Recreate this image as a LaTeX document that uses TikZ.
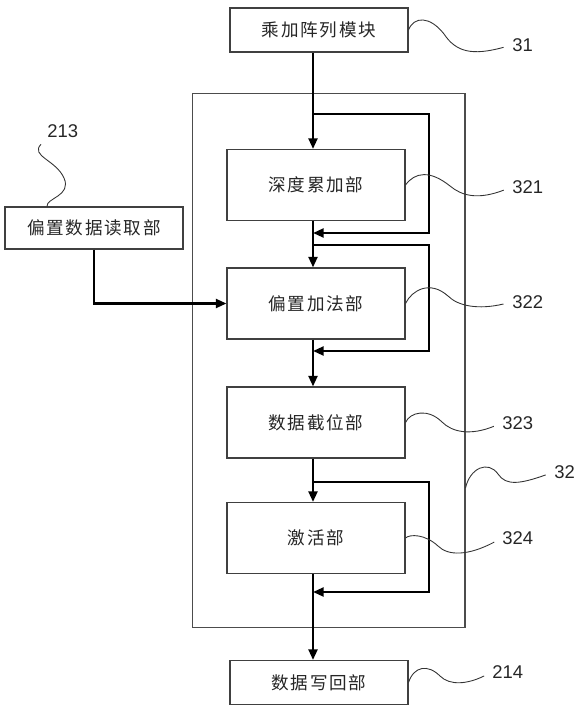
\documentclass[tikz,border=0pt]{standalone}
\usepackage{fontspec}
\setmainfont{Liberation Sans}
\newfontfamily\cjk[LetterSpace=10]{Noto Sans CJK SC}
\usetikzlibrary{arrows.meta}

\begin{document}
\begin{tikzpicture}[
  x=0.02cm,y=-0.02cm,
  font=\cjk\fontsize{10}{12}\selectfont,
  box/.style={draw=black!75,line width=0.6pt,fill=white,text=black!85,
    align=center,minimum width=3.56cm,minimum height=1.42cm,inner sep=2pt},
  ioblock/.style={box,minimum height=0.88cm},
  frame/.style={draw=black!70,line width=0.6pt,minimum width=5.46cm,
    minimum height=10.7cm},
  flow/.style={-{Triangle[length=6pt,width=5pt]},draw=black,
    line width=1.4pt},
  leader/.style={draw=black!80,line width=0.5pt,shorten >=5pt},
  refnum/.style={font=\fontsize{10.5}{12}\selectfont,text=black!85,
    anchor=west,inner sep=0pt}]
\useasboundingbox (0,0) rectangle (580,712);

% outer frame of unit 32
\node[frame] (unit) at (328.5,360.5) {};

\node[ioblock] (mac) at (319,30) {乘加阵列模块};
\node[box] (acc) at (316,185) {深度累加部};
\node[box] (badd) at (316,303.5) {偏置加法部};
\node[box] (trunc) at (316,422.5) {数据截位部};
\node[box] (act) at (316,538) {激活部};
\node[ioblock] (wb) at (319,682.5) {数据写回部};
\node[ioblock,minimum height=0.84cm] (biasrd) at (94,228) {偏置数据读取部};

% bypass taps on the right
\coordinate (s1) at (313,114); \coordinate (r1) at (429,233); \coordinate (m1) at (313,233);
\coordinate (s2) at (313,245); \coordinate (r2) at (429,351); \coordinate (m2) at (313,351);
\coordinate (s3) at (313,482); \coordinate (r3) at (429,592); \coordinate (m3) at (313,592);

\draw[flow] (mac.south -| s1)--(acc.north -| s1);
\draw[flow] (acc.south -| s1)--(badd.north -| s1);
\draw[flow] (badd.south -| s1)--(trunc.north -| s1);
\draw[flow] (trunc.south -| s1)--(act.north -| s1);
\draw[flow] (act.south -| s1)--(wb.north -| s1);
\draw[flow] (s1)-|(r1)--(m1);
\draw[flow] (s2)-|(r2)--(m2);
\draw[flow] (s3)-|(r3)--(m3);
\draw[flow] (biasrd.south)|-(badd.west);

% reference numbers
\node[refnum] (n31) at (512,45) {31};
\node[refnum] (n321) at (512,187) {321};
\node[refnum] (n322) at (512,302) {322};
\node[refnum] (n323) at (502,423) {323};
\node[refnum] (n324) at (502,538) {324};
\node[refnum] (n32) at (554,472) {32};
\node[refnum] (n213) at (47,131) {213};
\node[refnum] (n214) at (492,672) {214};

\draw[leader] (mac.east)..controls (414,16) and (430,16) ..(444,34)
  ..controls (456,52) and (472,56) ..(n31.west);
\draw[leader] (acc.east)..controls (415,172) and (430,170) ..(450,186)
  ..controls (462,196) and (478,200) ..(n321.west);
\draw[leader] (badd.east)..controls (412,290) and (430,280) ..(448,296)
  ..controls (458,306) and (478,310) ..(n322.west);
\draw[leader] (trunc.east)..controls (410,412) and (428,408) ..(442,422)
  ..controls (452,432) and (470,436) ..(n323.west);
\draw[leader] (act.east)..controls (410,534) and (425,534) ..(438,546)
  ..controls (448,556) and (468,556) ..(n324.west);
\draw[leader] (unit.east |- 0,488)..controls (470,468) and (488,460) ..(498,474)
  ..controls (506,486) and (520,484) ..(n32.west);
\draw[leader] (biasrd.north -| 47,0)..controls (46,198) and (72,196) ..(64,178)
  ..controls (56,160) and (30,156) ..(n213.south west);
\draw[leader] (wb.east)..controls (414,666) and (428,664) ..(440,676)
  ..controls (450,686) and (468,684) ..(n214.west);
\end{tikzpicture}
\end{document}
